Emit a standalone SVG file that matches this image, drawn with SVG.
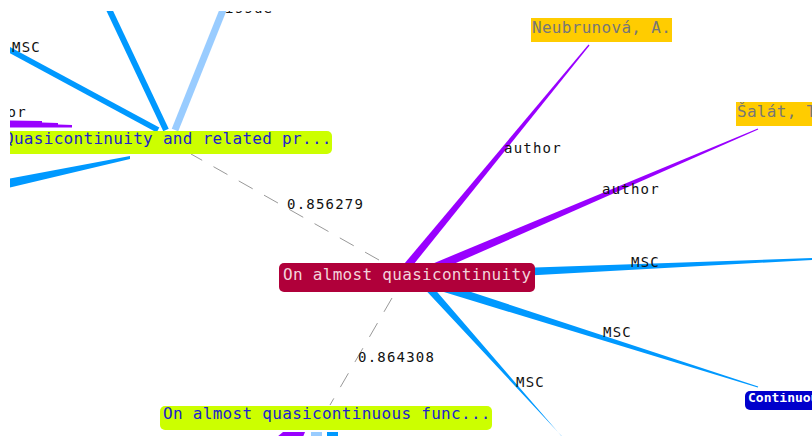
<svg xmlns="http://www.w3.org/2000/svg" width="812" height="436" viewBox="0 0 812 436">
<style>
.lbl{font-family:"DejaVu Sans Mono","Liberation Mono",monospace;font-size:14px;letter-spacing:1.2px;fill:#111}
.ntx{font-family:"DejaVu Sans Mono","Liberation Mono",monospace;font-size:16px;letter-spacing:0.3px}
.pur{fill:#9900ff}
.blu{fill:#0099ff}
.lblu{fill:#99ccff}
.dash{stroke:#999;stroke-width:1;fill:none;stroke-dasharray:16 13}
</style>
<defs>
<clipPath id="view"><rect x="10" y="11" width="802" height="425"/></clipPath>
<clipPath id="contClip"><rect x="745" y="393" width="80" height="18"/></clipPath>
</defs>
<rect width="812" height="436" fill="#fff"/>
<g clip-path="url(#view)">
<g id="edges">
  <polygon class="pur" points="403.1,277.5 589.5,45.4 588.5,44.6 396.9,272.5"/>
  <polygon class="pur" points="430.8,274.1 758.2,129.6 757.8,128.4 427.2,265.9"/>
  <polygon class="blu" points="520,268 812,258.1 812,259.9 520,276"/>
  <polygon class="blu" points="418.6,284.3 757.8,387.6 758.2,386.4 421.4,275.7"/>
  <polygon class="blu" points="415,278.7 562.3,436.7 570,446 421,273.3"/>
  <line class="dash" x1="379" y1="260" x2="191" y2="154"/>
  <line class="dash" x1="392" y1="298" x2="330" y2="405"/>
  <line x1="107" y1="5" x2="166" y2="130" stroke="#0099ff" stroke-width="6"/>
  <line x1="225" y1="5" x2="175" y2="130" stroke="#99ccff" stroke-width="7"/>
  <line x1="8" y1="49" x2="158" y2="130" stroke="#0099ff" stroke-width="5.5"/>
  <polygon class="pur" points="8,120.5 42,121 42,122.5 58,123 58,124.5 72,125 72,127.5 8,127.5"/>
  <polygon class="blu" points="8,179 130,156 130,159 8,188"/>
  <polygon class="pur" points="283,432 305,432 303,437 277,437"/>
  <rect class="lblu" x="311" y="432" width="11" height="5"/>
  <rect class="blu" x="327" y="432" width="11" height="5"/>
  <text class="lbl" x="504" y="153">author</text>
  <text class="lbl" x="602" y="194">author</text>
  <text class="lbl" x="631" y="267">MSC</text>
  <text class="lbl" x="603" y="337">MSC</text>
  <text class="lbl" x="516" y="387">MSC</text>
  <text class="lbl" x="287" y="209">0.856279</text>
  <text class="lbl" x="358" y="362">0.864308</text>
  <text class="lbl" x="12" y="52">MSC</text>
  <text class="lbl" x="-31" y="117">author</text>
  <text class="lbl" x="225" y="12.5">issue</text>
</g>
<g id="node-central">
  <rect x="279" y="263" width="256" height="29" rx="5" fill="#b0003a"/>
  <text class="ntx" x="283" y="280" fill="#f3d3dc">On almost quasicontinuity</text>
</g>
<g id="node-quasicontinuity">
  <rect x="4" y="131" width="328" height="23" rx="5" fill="#ccff00"/>
  <text class="ntx" x="4" y="144" fill="#2222cc">Quasicontinuity and related pr...</text>
</g>
<g id="node-almost-func">
  <rect x="160" y="406" width="332" height="24" rx="5" fill="#ccff00"/>
  <text class="ntx" x="163" y="419" fill="#2222cc">On almost quasicontinuous func...</text>
</g>
<g id="node-neubrunova">
  <rect x="531" y="18" width="141" height="24" fill="#ffcc00"/>
  <text class="ntx" x="532" y="33" fill="#777">Neubrunová, A.</text>
</g>
<g id="node-salat">
  <rect x="736" y="102" width="90" height="24" fill="#ffcc00"/>
  <text class="ntx" x="737" y="117" fill="#777">Šalát, T.</text>
</g>
<g id="node-continuous">
  <rect x="745" y="391" width="80" height="19" rx="5" fill="#0000cc"/>
  <text x="748" y="402" clip-path="url(#contClip)" font-family="DejaVu Sans Mono, monospace" font-size="13" font-weight="bold" fill="#fff">Continuous</text>
</g>
</g>
</svg>
